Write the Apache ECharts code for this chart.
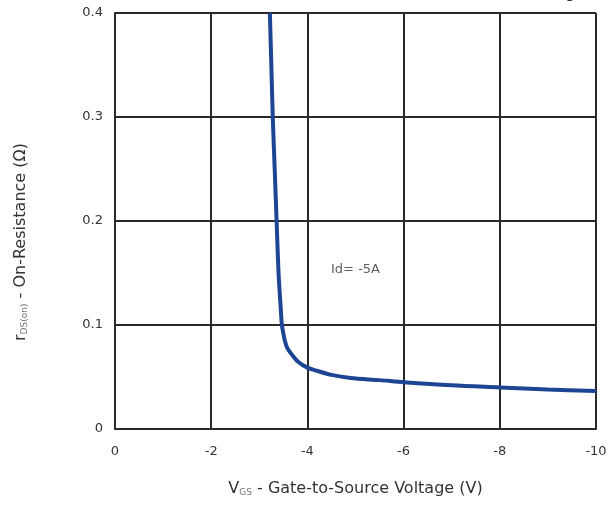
<!DOCTYPE html>
<html><head><meta charset="utf-8">
<script src="https://cdn.jsdelivr.net/npm/echarts@6/dist/echarts.min.js"></script>
<style>html,body{margin:0;padding:0;background:#fff}#c{width:612px;height:515px}</style>
</head><body><div id="c"></div>
<script>
// Gate-to-source voltage (V) and on-resistance (ohm)
const vgs = [-3.22, -3.25, -3.28, -3.32, -3.36, -3.40, -3.44, -3.47, -3.50, -3.53, -3.58, -3.67, -3.80, -4.0, -4.2, -4.5, -4.9, -5.5, -6.0, -7.0, -8.0, -9.0, -10.0];
const rds = [0.400, 0.350, 0.300, 0.250, 0.200, 0.150, 0.120, 0.100, 0.092, 0.085, 0.078, 0.072, 0.065, 0.059, 0.056, 0.052, 0.049, 0.047, 0.045, 0.042, 0.040, 0.038, 0.0365];
const xTicks = [0, -2, -4, -6, -8, -10];
const yTicks = [0, 0.1, 0.2, 0.3, 0.4];
const annotation = {x: -5, y: 0.153, text: 'Id= -5A'};
const titleText = 'On-Resistance vs. Gate-to-Source Voltage';

const chart = echarts.init(document.getElementById('c'));
const font = '"DejaVu Sans", "Liberation Sans", Arial, sans-serif';
chart.setOption({
  animation: false,
  backgroundColor: '#fff',
  graphic: [{
    type: 'text', right: 29, top: -14,
    style: {text: titleText, font: '16px "Liberation Sans", Arial, sans-serif', fill: '#333'}
  }],
  grid: {left: 115, right: 16, top: 13, bottom: 86},
  xAxis: {
    type: 'value', min: -10, max: 0, interval: 2, inverse: true,
    name: '{v|V}{s|GS}{v| - Gate-to-Source Voltage (V)}',
    nameLocation: 'middle', nameGap: 52,
    nameTextStyle: {rich: {
      v: {fontFamily: font, fontSize: 16, color: '#333'},
      s: {fontFamily: font, fontSize: 9, color: '#777', padding: [7, 0, 0, 0]}
    }},
    axisLine: {show: true, lineStyle: {color: '#2a2a2a', width: 2}},
    axisTick: {show: false},
    splitLine: {show: true, lineStyle: {color: '#2a2a2a', width: 2}},
    axisLabel: {color: '#333', fontFamily: font, fontSize: 13, margin: 16,
      formatter: v => xTicks.includes(v) ? String(v) : ''}
  },
  yAxis: {
    type: 'value', min: 0, max: 0.4, interval: 0.1,
    name: '{v|r}{s|DS(on)}{v| - On-Resistance (Ω)}',
    nameLocation: 'middle', nameGap: 86, nameRotate: 90,
    nameTextStyle: {padding: [0, 42, 0, 0], rich: {
      v: {fontFamily: font, fontSize: 16, color: '#333'},
      s: {fontFamily: font, fontSize: 9, color: '#777', padding: [7, 0, 0, 0]}
    }},
    axisLine: {show: true, lineStyle: {color: '#2a2a2a', width: 2}},
    axisTick: {show: false},
    splitLine: {show: true, lineStyle: {color: '#2a2a2a', width: 2}},
    axisLabel: {color: '#333', fontFamily: font, fontSize: 13, margin: 12,
      formatter: v => {
        const t = yTicks.find(y => Math.abs(y - v) < 1e-9);
        return t === undefined ? '' : (t === 0 ? '0' : t.toFixed(1));
      }}
  },
  series: [{
    type: 'line', data: vgs.map((v, i) => [v, rds[i]]),
    smooth: 0.3, showSymbol: false,
    lineStyle: {color: '#1d4594', width: 4}
  }, {
    type: 'scatter', symbolSize: 0,
    data: [[annotation.x, annotation.y]],
    label: {show: true, position: 'inside', formatter: annotation.text,
      color: '#333', fontFamily: font, fontSize: 13}
  }]
});
</script></body></html>
